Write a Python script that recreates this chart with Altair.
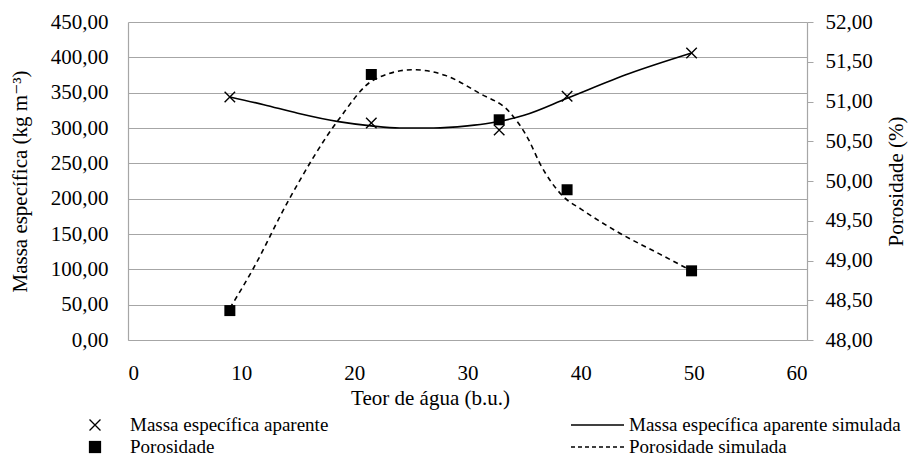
import altair as alt
import pandas as pd

# Observed data
teor = [9, 21.5, 32.8, 38.8, 49.8]
massa = [344, 307, 297, 345, 406]
porosidade = [48.37, 51.34, 50.77, 49.89, 48.87]

# Simulated curves
teor_sim_massa = [9, 12, 15, 18.6, 21.5, 24, 27, 30, 32, 35, 38.8, 44.3, 49.8]
massa_sim = [344, 333, 321, 309, 303, 300, 300, 303, 307, 318, 342, 377, 406]
teor_sim_poro = [9, 11, 14.2, 18.6, 21.7, 25.2, 28, 31.1, 33.7, 35.4, 36.4, 38.5, 40, 43.5, 47, 49.8]
poro_sim = [48.40, 48.88, 49.76, 50.77, 51.27, 51.40, 51.33, 51.10, 50.87, 50.52, 50.22, 49.80, 49.65, 49.34, 49.08, 48.87]

x_ticks = [0, 10, 20, 30, 40, 50, 60]
left_ticks = [0, 50, 100, 150, 200, 250, 300, 350, 400, 450]
right_ticks = [48, 48.5, 49, 49.5, 50, 50.5, 51, 51.5, 52]

legend_labels = ["Massa específica aparente", "Porosidade",
                 "Massa específica aparente simulada", "Porosidade simulada"]

FONT = "'Liberation Serif', 'DejaVu Serif', serif"
GRAY = "#a6a6a6"
FS = 21
LFS = 19
fmt = "replace(format(datum.value, '.2f'), '.', ',')"

obs = pd.DataFrame({"teor": teor, "massa": massa, "poro": porosidade})
sm = pd.DataFrame({"teor": teor_sim_massa, "massa": massa_sim})
sp = pd.DataFrame({"teor": teor_sim_poro, "poro": poro_sim})

common = dict(labelFont=FONT, titleFont=FONT, labelFontSize=FS, titleFontSize=FS,
              labelColor="black", titleColor="black", titleFontWeight="normal",
              domainColor=GRAY)

xenc = alt.X("teor:Q", scale=alt.Scale(domain=[0, 60], nice=False),
             axis=alt.Axis(values=x_ticks, title="Teor de água (b.u.)", grid=False,
                           ticks=False, labelPadding=22, titlePadding=4, titleX=302,
                           **common))

yleft = alt.Y("massa:Q", scale=alt.Scale(domain=[0, 450], nice=False),
              axis=alt.Axis(values=left_ticks, labelExpr=fmt, grid=True, gridColor=GRAY,
                            ticks=False, labelPadding=20,
                            title="Massa específica (kg m⁻³)", titleX=-108,
                            titleBaseline="middle", **common))

yright = alt.Y("poro:Q", scale=alt.Scale(domain=[48, 52], nice=False),
               axis=alt.Axis(orient="right", values=right_ticks, labelExpr=fmt, grid=False,
                             ticks=True, tickSize=6, tickColor=GRAY,
                             labelPadding=12, title="Porosidade (%)", titleAngle=-90,
                             titleX=89, titleBaseline="middle", **common))

XPATH = "M-1,-1L1,1M-1,1L1,-1"

mline = alt.Chart(sm).mark_line(color="black", strokeWidth=1.6, interpolate="monotone").encode(x=xenc, y=yleft)
mpts = alt.Chart(obs).mark_point(shape=XPATH, size=110, color="black", strokeWidth=1.4, filled=False, opacity=1).encode(x=xenc, y=yleft)
pline = alt.Chart(sp).mark_line(color="black", strokeWidth=1.6, strokeDash=[5, 4], interpolate="monotone").encode(x=xenc, y=yright)
ppts = alt.Chart(obs).mark_square(size=121, color="black", opacity=1).encode(x=xenc, y=yright)

# Legend (drawn below the plot area)
leg_df = pd.DataFrame({"label": legend_labels})
row1, row2 = 403, 425
sx, tx = -33, 2
lx1, lx2, rtx = 443, 496, 501
lg_x = alt.Chart(leg_df.iloc[[0]]).mark_point(shape=XPATH, size=120, color="black", strokeWidth=1.3, opacity=1).encode(x=alt.value(sx), y=alt.value(row1))
lg_sq = alt.Chart(leg_df.iloc[[1]]).mark_square(size=150, color="black", opacity=1).encode(x=alt.value(sx), y=alt.value(row2))
txt = dict(align="left", baseline="middle", font=FONT, fontSize=LFS, color="black")
lg_t1 = alt.Chart(leg_df.iloc[[0]]).mark_text(**txt).encode(x=alt.value(tx), y=alt.value(row1), text="label:N")
lg_t2 = alt.Chart(leg_df.iloc[[1]]).mark_text(**txt).encode(x=alt.value(tx), y=alt.value(row2), text="label:N")
lg_l1 = alt.Chart(leg_df.iloc[[2]]).mark_rule(color="black", strokeWidth=1.6).encode(x=alt.value(lx1), x2=alt.value(lx2), y=alt.value(row1))
lg_l2 = alt.Chart(leg_df.iloc[[3]]).mark_rule(color="black", strokeWidth=1.6, strokeDash=[4, 3]).encode(x=alt.value(lx1), x2=alt.value(lx2), y=alt.value(row2))
lg_t3 = alt.Chart(leg_df.iloc[[2]]).mark_text(**txt).encode(x=alt.value(rtx), y=alt.value(row1), text="label:N")
lg_t4 = alt.Chart(leg_df.iloc[[3]]).mark_text(**txt).encode(x=alt.value(rtx), y=alt.value(row2), text="label:N")

chart = alt.layer(
    alt.layer(mline, mpts),
    alt.layer(pline, ppts),
    lg_x, lg_sq, lg_t1, lg_t2, lg_l1, lg_l2, lg_t3, lg_t4,
).resolve_scale(y="independent").properties(
    width=679, height=318,
    autosize=alt.AutoSizeParams(type="none"),
    padding={"left": 120, "top": 14, "right": 102, "bottom": 116},
).configure_view(stroke=None).configure_axis(domainWidth=1.2, gridWidth=1.2)

chart.save("out.html", embed_options={"renderer": "svg", "actions": False})
